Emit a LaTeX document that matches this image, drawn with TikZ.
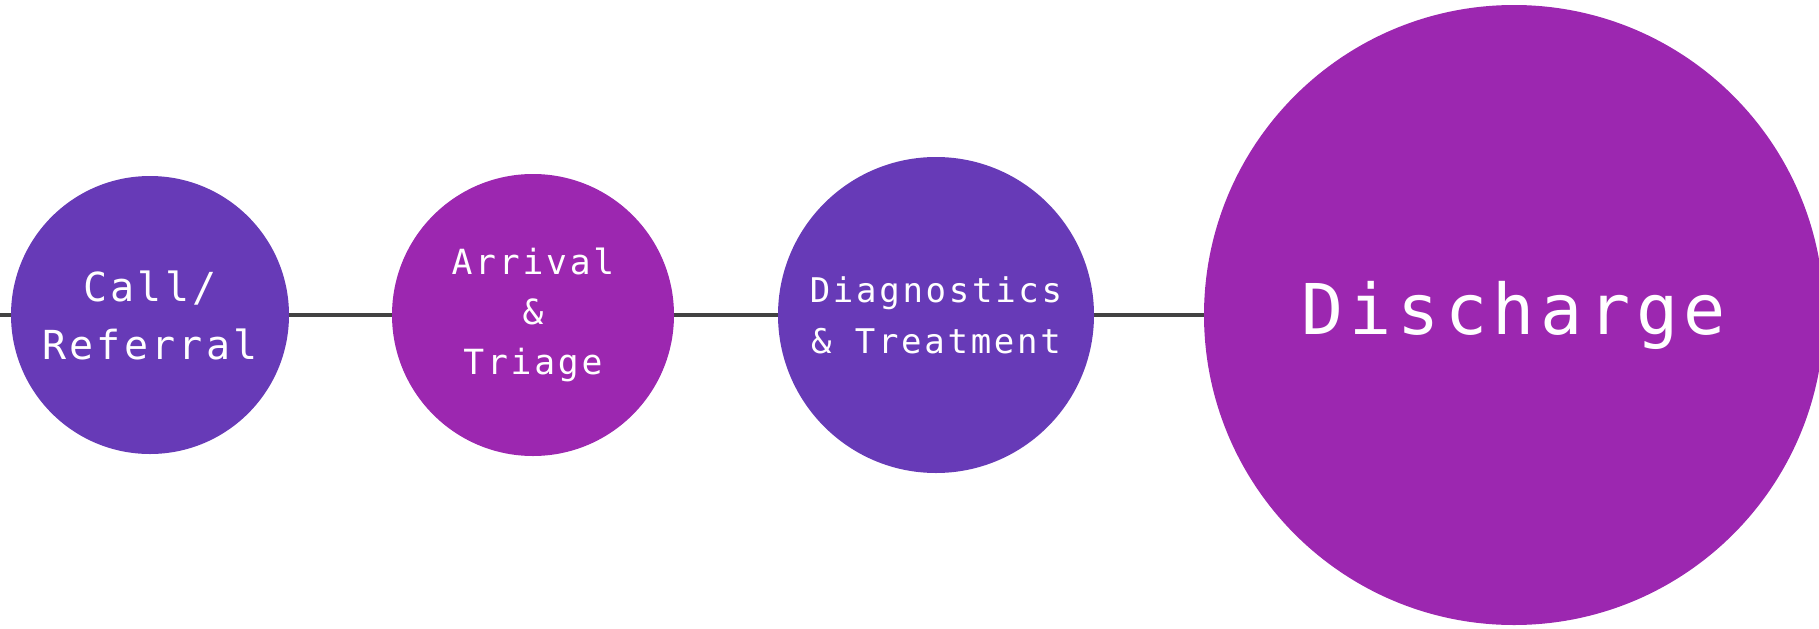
\documentclass[tikz,border=0pt]{standalone}
\usepackage{fontspec}
\usetikzlibrary{backgrounds}
\newfontfamily\stagefont{DejaVu Sans Mono}[LetterSpace=8]
\definecolor{deeppurple}{RGB}{103,58,183}
\definecolor{brightpurple}{RGB}{156,39,176}
\definecolor{linegray}{RGB}{66,66,66}

\tikzset{every picture/.style={line width=0.75pt}}
\tikzset{
  stage/.style={circle, inner sep=0pt, text=white, align=center, font=\stagefont},
  timeline/.style={draw=linegray, line width=2.6pt}
}

\begin{document}
\begin{tikzpicture}[x=0.75pt,y=0.75pt,yscale=-1,xscale=1]
\useasboundingbox (0,0) rectangle (1819,628);

%Shape: Circle [call]
\node (call) [stage, fill=deeppurple, minimum size=208.5pt, font=\stagefont\fontsize{30pt}{43.5pt}\selectfont] at (150,315) {Call/\\Referral};
%Shape: Circle [arrival]
\node (arrival) [stage, fill=brightpurple, minimum size=211.5pt, font=\stagefont\fontsize{26pt}{37.5pt}\selectfont] at (533,315) {Arrival\\\&\\Triage};
%Shape: Circle [diagnostics]
\node (diag) [stage, fill=deeppurple, minimum size=237pt, font=\stagefont\fontsize{25.5pt}{38pt}\selectfont] at (936,315) {Diagnostics\\\& Treatment};
%Shape: Circle [discharge]
\node (discharge) [stage, fill=brightpurple, minimum size=465pt, font=\stagefont\fontsize{52.5pt}{60pt}\selectfont] at (1514,315) {Discharge};

%Timeline
\coordinate (start) at (0,315);
\begin{pgfonlayer}{background}
\draw [timeline] (start) -- (call.center) -- (arrival.center) -- (diag.center) -- (discharge.center);
\end{pgfonlayer}

\end{tikzpicture}
\end{document}
